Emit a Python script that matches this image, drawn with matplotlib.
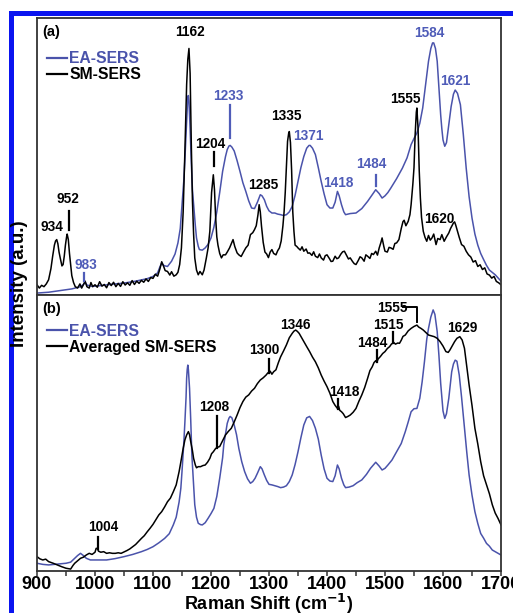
import matplotlib
matplotlib.use("Agg")
import matplotlib.pyplot as plt
from matplotlib.patches import Rectangle
from matplotlib.ticker import MultipleLocator

plt.rcParams['font.family'] = ['Liberation Sans', 'DejaVu Sans']
plt.rcParams['font.weight'] = 'bold'

BLUE = '#4a53ab'
BLUE_TXT = '#4f5cb8'

# ---- panel (a): EA-SERS vs single-molecule SERS ----
ea_a_x = [900, 920, 940, 960, 975, 980, 983, 986, 995, 1010, 1030, 1050, 1070, 1090, 1100,
          1108, 1112, 1115, 1119, 1125, 1132, 1138, 1143, 1147, 1150, 1153, 1155, 1157, 1159,
          1160, 1161, 1162, 1164, 1166, 1168, 1170, 1173, 1175, 1178, 1180, 1185, 1190, 1195,
          1200, 1205, 1210, 1215, 1220, 1225, 1228, 1231, 1233, 1236, 1240, 1245, 1250, 1255,
          1260, 1265, 1270, 1275, 1280, 1285, 1288, 1292, 1296, 1300, 1305, 1310, 1315, 1320,
          1325, 1330, 1335, 1340, 1345, 1350, 1355, 1360, 1365, 1369, 1371, 1375, 1380, 1385,
          1390, 1395, 1400, 1405, 1410, 1414, 1418, 1421, 1425, 1429, 1432, 1440, 1450, 1460,
          1470, 1478, 1484, 1490, 1495, 1500, 1505, 1510, 1520, 1530, 1538, 1545, 1550, 1555,
          1560, 1565, 1570, 1575, 1579, 1582, 1584, 1587, 1590, 1593, 1596, 1598, 1600, 1603,
          1606, 1610, 1614, 1618, 1621, 1625, 1630, 1635, 1640, 1645, 1650, 1655, 1660, 1665,
          1670, 1675, 1680, 1690, 1700]
ea_a_y = [0.7, 1.0, 1.6, 2.2, 3.0, 3.8, 4.6, 3.6, 3.1, 3.4, 3.9, 4.3, 5.0, 5.9, 6.7,
          8.0, 10.2, 11.5, 10.6, 10.3, 12.2, 14.8, 18.8, 24, 32.6, 41, 49, 58, 67,
          71.7, 72, 70, 60, 48, 38, 32.6, 25, 20.6, 17.6, 16.4, 16.2, 17, 18.3,
          20.6, 24.5, 30, 37, 44.6, 50, 52.5, 53.8, 54, 53.4, 52, 48.5, 44.6, 40.5,
          37.4, 34, 31.4, 31.2, 33.5, 36.2, 35.8, 34.4, 32, 30.4, 29.6, 29.6, 29.2, 29,
          28.7, 29, 30, 32, 36, 41, 46, 50, 53, 54, 54, 53, 50.7, 46,
          41, 36.5, 32.6, 31.4, 31.4, 33.5, 37.4, 35.8, 32.6, 30, 29, 29.4, 29.6, 31.2,
          33.8, 36.2, 38, 36.6, 35, 35.8, 37, 38.6, 42, 45.8, 49.5, 54.3, 56.5, 58.5,
          62, 67.5, 76, 84.4, 89, 91, 91, 89, 84.4, 75, 65, 60, 56, 53.7,
          55, 61.5, 68, 72.5, 74, 72.8, 68.7, 58, 45.8, 35.5, 27.8, 22, 18, 15,
          12.8, 10.7, 9, 7.3, 5]

sm_a_x = [900, 904, 908, 912, 916, 920, 924, 927, 930, 932, 934, 936, 938, 940, 943, 945, 947,
          949, 951, 952, 954, 956, 958, 960, 963, 966, 970, 974, 977, 980, 983, 986, 990, 993,
          996, 1000, 1004, 1008, 1012, 1016, 1020, 1024, 1028, 1032, 1036, 1040, 1044, 1048,
          1052, 1056, 1060, 1064, 1068, 1072, 1076, 1080, 1084, 1088, 1092, 1096, 1100, 1104,
          1108, 1112, 1115, 1118, 1121, 1125, 1129, 1132, 1136, 1140, 1143, 1146, 1149, 1152,
          1155, 1158, 1160, 1162, 1164, 1166, 1168, 1170, 1172, 1175, 1178, 1181, 1185, 1188,
          1192, 1195, 1198, 1201, 1204, 1206, 1208, 1210, 1212, 1215, 1218, 1221, 1225, 1228,
          1232, 1235, 1238, 1241, 1245, 1248, 1252, 1256, 1260, 1264, 1268, 1272, 1275, 1278,
          1281, 1283, 1285, 1287, 1290, 1293, 1296, 1299, 1302, 1305, 1308, 1312, 1315, 1318,
          1321, 1324, 1326, 1328, 1330, 1332, 1334, 1335, 1337, 1339, 1341, 1343, 1345, 1348,
          1350, 1354, 1357, 1360, 1364, 1367, 1370, 1374, 1377, 1380, 1384, 1387, 1390, 1394,
          1397, 1400, 1404, 1407, 1410, 1414, 1417, 1420, 1424, 1427, 1430, 1434, 1437, 1440,
          1444, 1447, 1450, 1454, 1457, 1460, 1464, 1467, 1470, 1474, 1477, 1480, 1484, 1487,
          1490, 1493, 1495, 1498, 1500, 1504, 1507, 1510, 1514, 1517, 1520, 1524, 1528, 1531,
          1533, 1536, 1540, 1543, 1545, 1548, 1550, 1552, 1554, 1555, 1557, 1559, 1561, 1563,
          1566, 1569, 1572, 1575, 1578, 1581, 1584, 1588, 1591, 1595, 1598, 1602, 1606, 1610,
          1613, 1615, 1618, 1620, 1622, 1625, 1628, 1632, 1636, 1640, 1644, 1648, 1652, 1656,
          1660, 1664, 1668, 1672, 1676, 1680, 1684, 1688, 1692, 1696, 1700]
sm_a_y = [3.7, 2.5, 3.5, 3.0, 4.0, 5.5, 9.5, 14, 18, 19.5, 20, 18.5, 15.5, 13.4, 10.5, 11, 14,
          18, 21, 22, 20, 15, 11, 7, 4.5, 3, 2.5, 4, 2.5, 3.7, 5, 3, 2.5, 4.5,
          3, 3.7, 2.8, 4.8, 3.2, 3.8, 2.6, 4.5, 3.4, 4.6, 3.0, 4.2, 3.1, 4.8,
          3.6, 4.4, 3.5, 5.2, 3.8, 5.0, 4.2, 5.3, 4.6, 5.8, 4.9, 6.3, 6, 7.5,
          6.8, 9.5, 12, 10.5, 8.8, 8.5, 7.2, 8.4, 6.8, 7.3, 8.2, 11, 17, 30,
          52, 76, 85, 89, 80, 55, 34, 22, 13.4, 9, 7.3, 8.5, 7.3, 9,
          13.4, 17, 23, 37, 43.4, 38, 28, 21, 18, 15, 13.4, 14.5, 14.5, 15.5,
          17, 18.5, 20, 17.5, 15.2, 14.5, 13.9, 15.5, 17, 18, 21.8, 22.5, 23.6, 25,
          29, 32.6, 30, 25, 19, 15.5, 14.8, 13.5, 15.5, 16.4, 15, 14.5, 16, 17,
          19.5, 25, 30, 37, 46, 55.5, 58.5, 59, 55, 45, 30, 23, 18, 17.5,
          17, 16.2, 17.4, 15.8, 16.6, 15.1, 15.2, 14.3, 15.6, 14, 13.5, 14.8, 13.4, 12.6,
          14.2, 14.5, 13.2, 12.1, 12.2, 14, 13.1, 13.4, 14.8, 15.6, 15.8, 14.2, 13, 13.4,
          12.1, 11.3, 11, 12.5, 13.8, 13.4, 12.2, 14.5, 14, 13.2, 15, 14.6, 15.8, 14.4,
          17, 19, 20.6, 17.5, 15.8, 15.5, 17.2, 17, 16.5, 18.6, 18.8, 20, 24, 26.5,
          27, 25, 26.6, 29, 32.6, 40, 46, 58, 66, 67.5, 60, 45, 35, 28,
          23, 20.8, 19.4, 21.5, 19.8, 20.6, 22, 18.2, 20.4, 20, 21.8, 19.4, 21, 22.4,
          24, 24.8, 26, 26.4, 25.2, 23, 20.8, 18.2, 17.6, 15.8, 14.5, 13.7, 11.9, 12.4,
          10.3, 10.9, 9.2, 9.8, 7.6, 7.2, 6.1, 6.7, 4.9, 4.4, 3.7]

# ---- panel (b): EA-SERS vs averaged SM-SERS ----
ea_b_x = [900, 910, 920, 930, 940, 950, 958, 965, 970, 975, 980, 985, 992, 1000, 1010, 1020,
          1035, 1050, 1065, 1080, 1090, 1100, 1110, 1120, 1128, 1135, 1140, 1145, 1148, 1150,
          1153, 1155, 1157, 1158, 1159, 1160, 1161, 1163, 1165, 1167, 1170, 1172, 1175, 1178,
          1182, 1185, 1190, 1195, 1200, 1205, 1210, 1215, 1220, 1222, 1225, 1228, 1231, 1233,
          1236, 1240, 1244, 1248, 1253, 1258, 1263, 1268, 1272, 1276, 1280, 1285, 1288, 1292,
          1296, 1300, 1305, 1310, 1315, 1320, 1325, 1330, 1335, 1340, 1345, 1350, 1355, 1360,
          1365, 1370, 1375, 1380, 1385, 1390, 1395, 1400, 1405, 1410, 1414, 1418, 1421, 1425,
          1429, 1432, 1438, 1445, 1452, 1460, 1468, 1475, 1480, 1484, 1490, 1495, 1500, 1505,
          1512, 1520, 1528, 1535, 1540, 1545, 1550, 1555, 1560, 1564, 1568, 1572, 1575, 1579,
          1583, 1586, 1590, 1593, 1596, 1598, 1600, 1603, 1606, 1610, 1615, 1618, 1621, 1624,
          1628, 1632, 1637, 1641, 1645, 1650, 1655, 1660, 1665, 1670, 1675, 1680, 1685, 1690,
          1700]
ea_b_y = [2.8, 2.4, 2.2, 2.4, 2.6, 2.8, 3.2, 4.6, 5.6, 6.4, 5.6, 4.6, 4.0, 4.0, 4.0, 4.0,
          4.5, 5.2, 6.0, 7.0, 7.8, 8.8, 10.2, 11.8, 13.5, 16.7, 19.5, 25, 30, 36,
          46, 54, 63, 69.8, 73, 74.6, 73, 66.2, 55, 42, 31, 24, 19.5, 17.3,
          16.8, 16.7, 17.5, 19.1, 20.8, 22.7, 27, 33.6, 41, 45.7, 49.6, 53.5, 55.4, 56,
          55.5, 52.9, 49.4, 44.4, 39.6, 36, 33.4, 31.8, 32.4, 33.6, 35.4, 37.8, 37, 34.8,
          32.8, 31.4, 31.2, 30.9, 30.6, 30.2, 30.4, 30.9, 32.4, 34.8, 38.6, 43.2, 48.3, 52.9,
          55.5, 56, 54.5, 51.7, 47.8, 42, 37, 33.6, 32.6, 32.4, 34.5, 38.4, 37, 33.6,
          31.2, 30.2, 30.4, 30.9, 32, 33, 35, 37.2, 38.4, 39.4, 38, 36.6, 37.2, 38.4,
          40.2, 43.2, 46.2, 50.5, 54, 57.7, 58.8, 58.9, 62.6, 68.5, 75.8, 84, 87.9, 92,
          94.6, 93, 86.7, 78, 68, 63, 58, 55.3, 57, 62.6, 72.2, 75, 76.4, 76,
          71, 63, 51.7, 43, 34.8, 27.5, 21.5, 17.2, 13.6, 11.9, 10, 9, 7.6, 7,
          5.8]

avg_b_x = [900, 905, 910, 915, 920, 928, 935, 942, 950, 955, 958, 962, 965, 970, 975, 980,
           985, 990, 995, 1000, 1002, 1004, 1006, 1010, 1015, 1020, 1025, 1030, 1035, 1040,
           1045, 1050, 1055, 1060, 1065, 1070, 1075, 1080, 1085, 1090, 1095, 1100, 1105, 1110,
           1115, 1120, 1125, 1130, 1135, 1140, 1145, 1148, 1152, 1155, 1158, 1161, 1163, 1165,
           1168, 1170, 1173, 1175, 1178, 1182, 1186, 1190, 1194, 1198, 1201, 1204, 1208, 1211,
           1215, 1220, 1225, 1230, 1235, 1240, 1245, 1250, 1255, 1260, 1265, 1270, 1275, 1280,
           1285, 1290, 1295, 1298, 1300, 1302, 1305, 1308, 1312, 1316, 1320, 1325, 1330, 1335,
           1340, 1343, 1346, 1349, 1352, 1356, 1360, 1365, 1370, 1375, 1380, 1385, 1390, 1395,
           1400, 1405, 1410, 1414, 1418, 1420, 1422, 1425, 1428, 1432, 1436, 1440, 1445, 1450,
           1455, 1460, 1465, 1470, 1474, 1478, 1481, 1484, 1486, 1488, 1492, 1496, 1500, 1504,
           1508, 1511, 1515, 1518, 1522, 1525, 1528, 1531, 1535, 1540, 1545, 1550, 1555, 1558,
           1562, 1566, 1570, 1575, 1580, 1585, 1590, 1595, 1600, 1605, 1609, 1612, 1616, 1620,
           1624, 1629, 1633, 1637, 1641, 1645, 1650, 1655, 1660, 1665, 1670, 1675, 1680, 1685,
           1690, 1695, 1700]
avg_b_y = [5.2, 4.4, 4.0, 4.3, 3.4, 2.8, 2.2, 1.6, 1.0, 0.8, 0.7, 2.0, 2.8, 3.7, 4.6, 5.0,
           5.8, 6.4, 6.0, 6.8, 8.2, 8.2, 7.2, 6.8, 7.0, 6.4, 6.6, 6.4, 6.4, 6.6,
           6.4, 6.9, 7.4, 8.0, 8.8, 9.6, 10.7, 11.8, 12.8, 14.2, 15.5, 16.9, 18.6, 20.3,
           21.5, 23.2, 25.1, 26.4, 28.7, 31.2, 36, 39.5, 44.4, 47.5, 49.3, 50.5, 49.4, 46.9,
           43.6, 40.8, 38.4, 37.4, 37.8, 37.8, 38.2, 38.4, 39.4, 40.8, 42.5, 43.2, 44.4, 44.8,
           45.1, 47.2, 49.3, 50.6, 51.7, 54, 56.5, 59.2, 61.4, 63, 63.8, 65.2, 66.2, 67.9,
           69.2, 70, 71, 71.8, 71.6, 72.4, 71.3, 72.2, 72.9, 75.4, 77.6, 79.7, 81.9, 84.5,
           86.1, 86.9, 87.3, 86.8, 86.1, 84.6, 83.1, 81.3, 79.5, 77.5, 75.8, 73.6, 71, 68.8,
           66.8, 64.4, 61.4, 60, 58.9, 59.7, 58.2, 57.7, 57, 55.6, 56, 56.5, 57.5, 58.9,
           61.5, 63.8, 66.5, 69.8, 72.6, 74, 75.5, 76.2, 75.6, 76.8, 77.7, 78.8, 79.5, 80.6,
           81.3, 82.2, 82.8, 82.2, 82.6, 82.5, 83.6, 85, 85.5, 87, 87.9, 88.6, 89.1, 88.4,
           87.9, 87.3, 86.5, 85.5, 85.2, 84.9, 84.3, 83.1, 81.5, 79.5, 79.2, 80.1, 81.6, 83.1,
           84.3, 84.9, 83.7, 80.7, 74, 67.4, 60, 51.7, 46, 39.6, 34.5, 31.2, 28, 24,
           21, 19, 16.7]

# peak labels: (text, label x, label y, colour, marker line (x, y0, y1) or None)
labels_a = [
    ("934", 926, 24.5, 'k', None),
    ("952", 953, 34.5, 'k', (955, 30.5, 23.5)),
    ("983", 984, 10.8, 'b', (981, 8.0, 5.0)),
    ("1162", 1163, 95.0, 'k', None),
    ("1204", 1199, 54.5, 'k', (1205, 51.5, 46.5)),
    ("1233", 1229, 71.8, 'b', (1233, 68.5, 56.5)),
    ("1285", 1290, 39.8, 'k', None),
    ("1335", 1330, 64.5, 'k', None),
    ("1371", 1368, 57.5, 'b', None),
    ("1418", 1420, 40.4, 'b', None),
    ("1484", 1476, 47.3, 'b', (1484, 43.5, 39.5)),
    ("1555", 1535, 70.8, 'k', None),
    ("1584", 1577, 94.6, 'b', None),
    ("1621", 1621, 77.4, 'b', None),
    ("1620", 1593, 27.4, 'k', None),
]
labels_b = [
    ("1004", 1014, 16.0, 'k', (1006, 12.4, 8.0)),
    ("1208", 1205, 59.5, 'k', (1211, 56.3, 44.5)),
    ("1300", 1291, 80.0, 'k', (1300, 76.8, 71.8)),
    ("1346", 1345, 89.0, 'k', None),
    ("1418", 1429, 65.0, 'k', (1419, 62.5, 58.8)),
    ("1484", 1478, 82.5, 'k', (1486, 80.0, 75.6)),
    ("1515", 1506, 89.0, 'k', (1514, 86.7, 82.5)),
    ("1555", 1512, 95.3, 'k', None),
    ("1629", 1633, 88.0, 'k', None),
]

fig = plt.figure(figsize=(5.13, 6.13), dpi=100)

# blue frame of the original figure
fig.add_artist(Rectangle((9 / 513, 1 - 16 / 613), 1, 5 / 613,
                         transform=fig.transFigure, facecolor='#0a14f0', edgecolor='none'))
fig.add_artist(Rectangle((9 / 513, 0), 5 / 513, 1 - 11 / 613,
                         transform=fig.transFigure, facecolor='#0a14f0', edgecolor='none'))

ax_a = fig.add_axes([37 / 513, 1 - 295 / 613, 464 / 513, 277 / 613])
ax_b = fig.add_axes([37 / 513, 1 - 571 / 613, 464 / 513, 276 / 613])

ax_a.plot(ea_a_x, ea_a_y, color=BLUE, lw=1.1, label='EA-SERS')
ax_a.plot(sm_a_x, sm_a_y, color='k', lw=1.1, label='SM-SERS')
ax_b.plot(ea_b_x, ea_b_y, color=BLUE, lw=1.1, label='EA-SERS')
ax_b.plot(avg_b_x, avg_b_y, color='k', lw=1.1, label='Averaged SM-SERS')

for ax, labels, tag, leg_top in [(ax_a, labels_a, '(a)', 0.88), (ax_b, labels_b, '(b)', 0.895)]:
    ax.set_xlim(900, 1700)
    ax.set_ylim(0, 100)
    ax.set_yticks([])
    ax.xaxis.set_major_locator(MultipleLocator(100))
    ax.xaxis.set_minor_locator(MultipleLocator(50))
    ax.tick_params(axis='x', which='both', direction='out', length=3.5, width=1.1,
                   labelsize=13, color='#333333', pad=0)
    for s in ax.spines.values():
        s.set_linewidth(1.3)
        s.set_color('#333333')
    ax.text(0.012, 0.975, tag, transform=ax.transAxes, fontsize=10.5,
            fontweight='bold', ha='left', va='top')
    for txt, lx, ly, c, mark in labels:
        col = BLUE_TXT if c == 'b' else 'k'
        ax.text(lx, ly, txt, color=col, fontsize=9.8, fontweight='bold',
                ha='center', va='center')
        if mark is not None:
            ax.plot([mark[0], mark[0]], [mark[1], mark[2]], color=col, lw=1.6)
    leg = ax.legend(loc='upper left', bbox_to_anchor=(0.022, leg_top), frameon=False,
                    handlelength=1.25, handletextpad=0.15, labelspacing=0.05,
                    borderpad=0, borderaxespad=0, labelcolor='linecolor',
                    prop={'weight': 'bold', 'size': 11.3})
    for h in leg.legend_handles:
        h.set_linewidth(1.6)

ax_a.tick_params(axis='x', labelbottom=False)
for t in ax_b.get_xticklabels():
    t.set_fontweight('bold')

# bracket for the 1555 label in (b)
ax_b.plot([1531, 1555, 1555], [95.8, 95.8, 90.3], color='k', lw=1.4)

ax_b.set_xlabel('Raman Shift (cm$^{\\mathbf{-1}}$)', fontsize=13, fontweight='bold', labelpad=-1)
fig.text(20 / 513, 1 - 284 / 613, 'Intensity (a.u.)', rotation=90, fontsize=13.5,
         fontweight='bold', ha='center', va='center')

fig.savefig('out.png', dpi=100)
